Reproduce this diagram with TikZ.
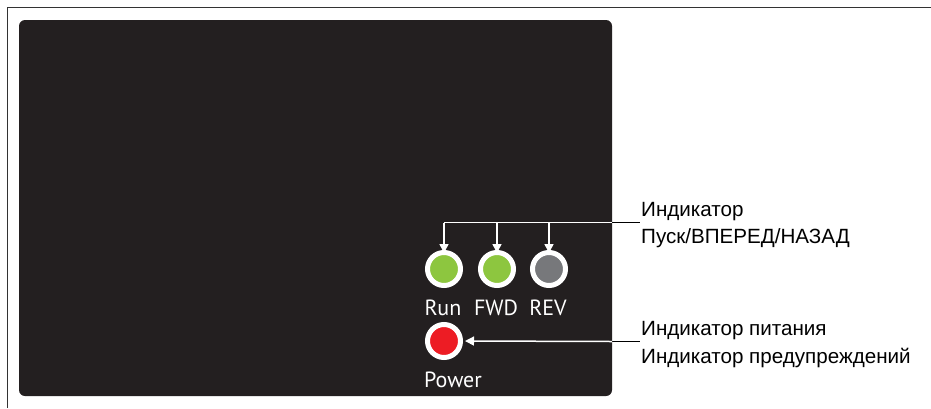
\documentclass[tikz,border=0pt]{standalone}
\usepackage{fontspec}
\setmainfont{Liberation Sans}
\newfontfamily\ledfont{PT Sans}
\usetikzlibrary{arrows.meta}
\definecolor{panel}{HTML}{231F20}
\definecolor{ledgreen}{HTML}{8DC63F}
\definecolor{ledgray}{HTML}{77787B}
\definecolor{ledred}{HTML}{ED1C24}
\definecolor{framegray}{HTML}{333333}
\begin{document}
\begin{tikzpicture}[x=1pt,y=-1pt,
  led/.style={circle, draw=white, line width=5pt, minimum size=33pt, inner sep=0pt},
  ledlabel/.style={text=white, font=\ledfont\fontsize{22}{24}\selectfont, inner sep=0pt, anchor=base},
  callout/.style={text=black, font=\fontsize{20.6}{24}\selectfont, inner sep=0pt, anchor=base west},
  wline/.style={draw=white, line width=1.5pt},
  warrow/.style={wline, -{Triangle[width=9pt,length=9pt]}},
  bline/.style={draw=black, line width=1.5pt}]
\useasboundingbox (0,0) rectangle (931,408);
% outer frame
\draw[framegray, line width=1.5pt] (7.5,408) -- (7.5,7.5) -- (931,7.5);
% panel
\fill[panel, rounded corners=6pt] (19,20) rectangle (612,396);
% LEDs
\node[led, fill=ledgreen] (run) at (444,269) {};
\node[led, fill=ledgreen] (fwd) at (497,269) {};
\node[led, fill=ledgray] (rev) at (549,269) {};
\node[led, fill=ledred] (pwr) at (444,341) {};
% LED labels
\node[ledlabel] (trun) at (443,315) {Run};
\node[ledlabel] (tfwd) at (496,315) {FWD};
\node[ledlabel] (trev) at (548,315) {REV};
\node[ledlabel, anchor=base west] (tpwr) at (424,387) {Power};
% callout labels
\node[callout] (l1a) at (641,216) {Индикатор};
\node[callout] (l1b) at (641,243) {Пуск/ВПЕРЕД/НАЗАД};
\node[callout] (l2a) at (641,335) {Индикатор питания};
\node[callout] (l2b) at (641,363) {Индикатор предупреждений};
% connector points
\coordinate (e1) at (612,222.5);
\coordinate (t1) at (640,222.5);
\coordinate (e2) at (612,341.5);
\coordinate (t2) at (640,341.5);
\coordinate (h1) at (run.north |- e1);
% connectors
\draw[bline] (e1) -- (t1);
\draw[bline] (e2) -- (t2);
\draw[wline] (e1) -- (h1);
\draw[warrow] (h1) -- ([yshift=-3pt]run.north);
\draw[warrow] (fwd.north |- e1) -- ([yshift=-3pt]fwd.north);
\draw[warrow] (rev.north |- e1) -- ([yshift=-3pt]rev.north);
\draw[warrow] (e2) -- ([xshift=2pt]pwr.east);
\end{tikzpicture}
\end{document}
